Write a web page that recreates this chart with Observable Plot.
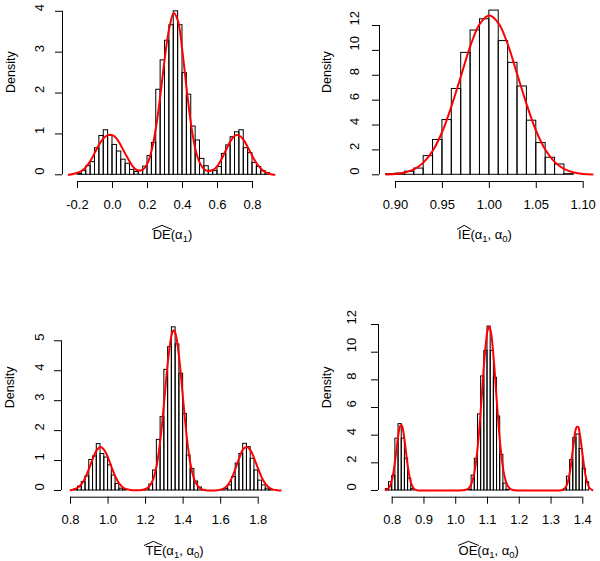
<!DOCTYPE html>
<html><head><meta charset="utf-8">
<script src="https://cdn.jsdelivr.net/npm/d3@7"></script>
<script src="https://cdn.jsdelivr.net/npm/@observablehq/plot@0.6"></script>
<style>
body{margin:0;background:#fff;}
#wrap{position:relative;width:600px;height:561px;overflow:hidden;font-family:"Liberation Sans",Arial,sans-serif;background:#fff;}
.xl{position:absolute;width:220px;text-align:center;font-size:13px;line-height:13px;white-space:nowrap;color:#000;}
.hat{position:relative;display:inline-block;}
.hat svg{position:absolute;left:-1px;top:-3px;width:calc(100% + 2px);height:4.5px;overflow:visible;}
.sb{font-size:9.5px;position:relative;top:3px;}
</style></head><body><div id="wrap"></div>
<script>
// ---------- Panel 1: DE(alpha1) ----------
const p1Breaks = [-0.2,-0.175,-0.15,-0.125,-0.1,-0.075,-0.05,-0.025,0,0.025,0.05,0.075,0.1,0.125,0.15,0.175,0.2,0.225,0.25,0.275,0.3,0.325,0.35,0.375,0.4,0.425,0.45,0.475,0.5,0.525,0.55,0.575,0.6,0.625,0.65,0.675,0.7,0.725,0.75,0.775,0.8,0.825,0.85,0.875,0.9];
const p1Heights = [0.02,0.09,0.21,0.31,0.65,0.95,1.09,0.95,0.73,0.57,0.37,0.27,0.12,0.07,0.1,0.2,0.46,0.78,2.08,2.8,3.28,3.66,4.0,3.66,2.49,1.96,1.18,0.84,0.39,0.21,0.1,0.09,0.19,0.51,0.72,0.92,1.04,1.09,0.65,0.53,0.29,0.19,0.09,0.04];
const p1CurveX = [-0.25,-0.225,-0.2,-0.175,-0.15,-0.125,-0.1,-0.075,-0.05,-0.025,0,0.025,0.05,0.075,0.1,0.125,0.15,0.175,0.2,0.225,0.25,0.275,0.3,0.325,0.35,0.375,0.4,0.425,0.45,0.475,0.5,0.525,0.55,0.575,0.6,0.625,0.65,0.675,0.7,0.725,0.75,0.775,0.8,0.825,0.85,0.875,0.9,0.925];
const p1CurveY = [0.0,0.02,0.05,0.1,0.2,0.35,0.55,0.75,0.9,0.97,0.97,0.88,0.7,0.5,0.31,0.16,0.1,0.13,0.28,0.62,1.2,2.0,2.9,3.6,3.96,3.75,3.0,2.05,1.2,0.6,0.28,0.13,0.09,0.12,0.22,0.4,0.62,0.83,0.96,0.96,0.85,0.66,0.45,0.27,0.14,0.06,0.02,0.0];
const p1XTicks = [-0.2,0,0.2,0.4,0.6,0.8];
const p1YTicks = [0,1,2,3,4];

// ---------- Panel 2: IE(alpha1, alpha0) ----------
const p2Breaks = [0.89,0.90,0.91,0.92,0.93,0.94,0.95,0.96,0.97,0.98,0.99,1.00,1.01,1.02,1.03,1.04,1.05,1.06,1.07,1.08,1.09];
const p2Heights = [0.05,0.1,0.25,0.5,1.5,2.8,4.4,6.9,9.8,11.6,12.5,13.2,10.75,9.0,7.1,4.35,2.55,1.37,0.83,0.05];
const p2CurveX = [0.89,0.90,0.91,0.92,0.93,0.94,0.95,0.96,0.97,0.98,0.99,1.00,1.01,1.02,1.03,1.04,1.05,1.06,1.07,1.08,1.09,1.10,1.11];
const p2CurveY = [0.03,0.07,0.19,0.46,1.0,1.97,3.5,5.6,8.0,10.4,12.15,12.8,12.15,10.4,8.0,5.6,3.5,1.97,1.0,0.46,0.19,0.07,0.03];
const p2XTicks = [0.90,0.95,1.00,1.05,1.10];
const p2YTicks = [0,2,4,6,8,10,12];

// ---------- Panel 3: TE(alpha1, alpha0) ----------
const p3BinLeft = [0.82,0.84,0.86,0.88,0.90,0.92,0.94,0.96,0.98,1.00,1.02,1.04,1.06,1.08,1.18,1.20,1.22,1.24,1.26,1.28,1.30,1.32,1.34,1.36,1.38,1.40,1.42,1.44,1.46,1.48,1.50,1.60,1.62,1.64,1.66,1.68,1.70,1.72,1.74,1.76,1.78,1.80,1.82,1.84,1.86];
const p3Heights = [0.03,0.13,0.28,0.47,1.02,1.14,1.55,1.22,1.1,0.84,0.5,0.22,0.06,0.02,0.01,0.05,0.2,0.67,1.69,2.45,4.03,4.79,5.45,4.88,3.9,2.56,1.17,0.72,0.3,0.1,0.02,0.01,0.05,0.17,0.45,0.9,1.22,1.56,1.45,1.06,0.67,0.33,0.17,0.06,0.02];
const p3BinWidth = 0.02;
const p3CurveX = [0.80,0.82,0.84,0.86,0.88,0.90,0.92,0.94,0.96,0.98,1.00,1.02,1.04,1.06,1.08,1.10,1.12,1.14,1.16,1.18,1.20,1.22,1.24,1.26,1.28,1.30,1.32,1.34,1.35,1.36,1.38,1.40,1.42,1.44,1.46,1.48,1.50,1.52,1.54,1.56,1.58,1.60,1.62,1.64,1.66,1.68,1.70,1.72,1.74,1.76,1.78,1.80,1.82,1.84,1.86,1.88,1.90,1.92];
const p3CurveY = [0.01,0.04,0.1,0.22,0.45,0.75,1.08,1.35,1.45,1.35,1.1,0.76,0.45,0.23,0.1,0.04,0.02,0.01,0.01,0.02,0.05,0.14,0.37,0.86,1.76,3.04,4.36,5.23,5.35,5.23,4.36,3.04,1.76,0.86,0.36,0.13,0.04,0.01,0.0,0.0,0.01,0.03,0.08,0.2,0.42,0.75,1.1,1.38,1.45,1.33,1.05,0.72,0.42,0.21,0.09,0.03,0.01,0.0];
const p3XTicks = [0.8,1.0,1.2,1.4,1.6,1.8];
const p3YTicks = [0,1,2,3,4,5];

// ---------- Panel 4: OE(alpha1, alpha0) ----------
const p4BinLeft = [0.78,0.79,0.80,0.81,0.82,0.83,0.84,0.85,0.86,1.04,1.05,1.06,1.07,1.08,1.09,1.10,1.11,1.12,1.13,1.14,1.15,1.16,1.34,1.35,1.36,1.37,1.38,1.39,1.40,1.41];
const p4Heights = [0.1,0.6,1.05,3.75,4.8,3.75,2.3,0.85,0.1,0.05,1.08,2.29,5.5,8.25,10.1,11.85,10.1,8.15,5.35,2.58,0.5,0.05,0.1,1.0,2.2,3.8,4.05,3.0,1.57,0.6];
const p4BinWidth = 0.01;
const p4CurveX = [0.78,0.79,0.80,0.81,0.82,0.825,0.83,0.835,0.84,0.85,0.86,0.87,0.88,0.90,0.95,1.00,1.03,1.04,1.05,1.06,1.07,1.08,1.09,1.10,1.105,1.11,1.12,1.13,1.14,1.15,1.16,1.17,1.18,1.20,1.25,1.30,1.33,1.34,1.35,1.36,1.37,1.38,1.385,1.39,1.40,1.41,1.42,1.43];
const p4CurveY = [0.03,0.19,0.83,2.31,4.12,4.66,4.71,4.26,3.45,1.62,0.49,0.09,0.01,0,0,0,0.04,0.15,0.52,1.46,3.35,6.21,9.4,11.55,11.85,11.55,9.4,6.21,3.35,1.46,0.52,0.15,0.04,0,0,0,0.01,0.08,0.41,1.43,3.19,4.56,4.61,4.17,2.45,0.92,0.22,0.03];
const p4XTicks = [0.8,0.9,1.0,1.1,1.2,1.3,1.4];
const p4YTicks = [0,2,4,6,8,10,12];

// axis-title texts
const xTitleMain = ["DE","IE","TE","OE"];
const xTitleArgs = [["1"],["1","0"],["1","0"],["1","0"]];
const yTitle = "Density";

// ---------- build ----------
const wrap = document.getElementById("wrap");
const W = 600, H = 561;

function makeBars(lefts, rights, heights){
  return heights.map((h,i)=>({x1:lefts[i], x2:rights[i], h}));
}
function makeCurve(xs, ys){ return xs.map((x,i)=>({x, y:ys[i]})); }

function panel(c){
  const svg = Plot.plot({
    width: W, height: H,
    marginLeft: c.left, marginRight: W - c.right, marginTop: c.top, marginBottom: H - c.bottom,
    x: {domain: c.xdom}, y: {domain: c.ydom},
    style: {position:"absolute", left:"0px", top:"0px", background:"transparent", fontFamily:"'Liberation Sans', Arial, sans-serif", fontSize:"13px", color:"#000", overflow:"visible"},
    marks: [
      Plot.rectY(c.bars, {x1:"x1", x2:"x2", y1:0, y2:"h", fill:"none", stroke:"#000", strokeWidth:1}),
      Plot.line(c.curve, {x:"x", y:"y", stroke:"#ff0000", strokeWidth:2, curve:"catmull-rom"}),
      Plot.ruleY([c.ydom[0]], {x1: c.xticks[0], x2: c.xticks[c.xticks.length-1], stroke:"#000"}),
      Plot.ruleX([c.xdom[0]], {y1: c.yticks[0], y2: c.yticks[c.yticks.length-1], stroke:"#000"}),
      Plot.axisX({ticks: c.xticks, tickSize: 7, tickPadding: 11, tickFormat: c.xfmt, label: null, fontSize: 13, stroke:"#000", fill:"#000"}),
      Plot.axisY({ticks: c.yticks, tickSize: 7, tickFormat: () => "", label: null, stroke:"#000"}),
      Plot.text(c.yticks, {y: d=>d, text: d=>String(d), frameAnchor:"left", dx: c.ytdx, rotate:-90, fontSize:13, fill:"#000"}),
      Plot.text([yTitle], {text: d=>d, frameAnchor:"left", dx: c.ylab, rotate:-90, fontSize:12.5, fill:"#000"})
    ]
  });
  wrap.appendChild(svg);
  const lab = document.createElement("div");
  lab.className = "xl";
  lab.style.left = (c.labX - 110) + "px";
  lab.style.top = (c.labBase - 11) + "px";
  const args = c.args.map(s => `\u03b1<span class="sb">${s}</span>`).join(", ");
  lab.innerHTML = `<span class="hat">${c.main}<svg viewBox="0 0 10 4" preserveAspectRatio="none"><polyline points="0,4 5,0.3 10,4" fill="none" stroke="#000" stroke-width="1" vector-effect="non-scaling-stroke"/></svg></span>(${args})`;
  wrap.appendChild(lab);
}

const fmt1 = d => d.toFixed(1), fmt2 = d => d.toFixed(2);

panel({left:62, right:283, top:4.1, bottom:181, xdom:[-0.2857,0.9771], ydom:[-0.164,4.164],
  bars: makeBars(p1Breaks.slice(0,-1), p1Breaks.slice(1), p1Heights),
  curve: makeCurve(p1CurveX, p1CurveY), xticks:p1XTicks, yticks:p1YTicks, xfmt:fmt1,
  ytdx:-23, ylab:-52, labX:172.5, labBase:238.7, main:xTitleMain[0], args:xTitleArgs[0]});

panel({left:379, right:600, top:4, bottom:181, xdom:[0.88295,1.11843], ydom:[-0.5386,13.69],
  bars: makeBars(p2Breaks.slice(0,-1), p2Breaks.slice(1), p2Heights),
  curve: makeCurve(p2CurveX, p2CurveY), xticks:p2XTicks, yticks:p2YTicks, xfmt:fmt2,
  ytdx:-25, ylab:-53, labX:485, labBase:238.7, main:xTitleMain[1], args:xTitleArgs[1]});

panel({left:61, right:288, top:318.7, bottom:496.7, xdom:[0.752,1.9614], ydom:[-0.2238,5.7214],
  bars: makeBars(p3BinLeft, p3BinLeft.map(v=>v+p3BinWidth), p3Heights),
  curve: makeCurve(p3CurveX, p3CurveY), xticks:p3XTicks, yticks:p3YTicks, xfmt:fmt1,
  ytdx:-22, ylab:-52, labX:174.5, labBase:554.5, main:xTitleMain[2], args:xTitleArgs[2]});

panel({left:378, right:599.5, top:318.7, bottom:496.7, xdom:[0.7569,1.4541], ydom:[-0.4845,12.386],
  bars: makeBars(p4BinLeft, p4BinLeft.map(v=>v+p4BinWidth), p4Heights),
  curve: makeCurve(p4CurveX, p4CurveY), xticks:p4XTicks, yticks:p4YTicks, xfmt:fmt1,
  ytdx:-27, ylab:-52, labX:488.7, labBase:555, main:xTitleMain[3], args:xTitleArgs[3]});
</script></body></html>
